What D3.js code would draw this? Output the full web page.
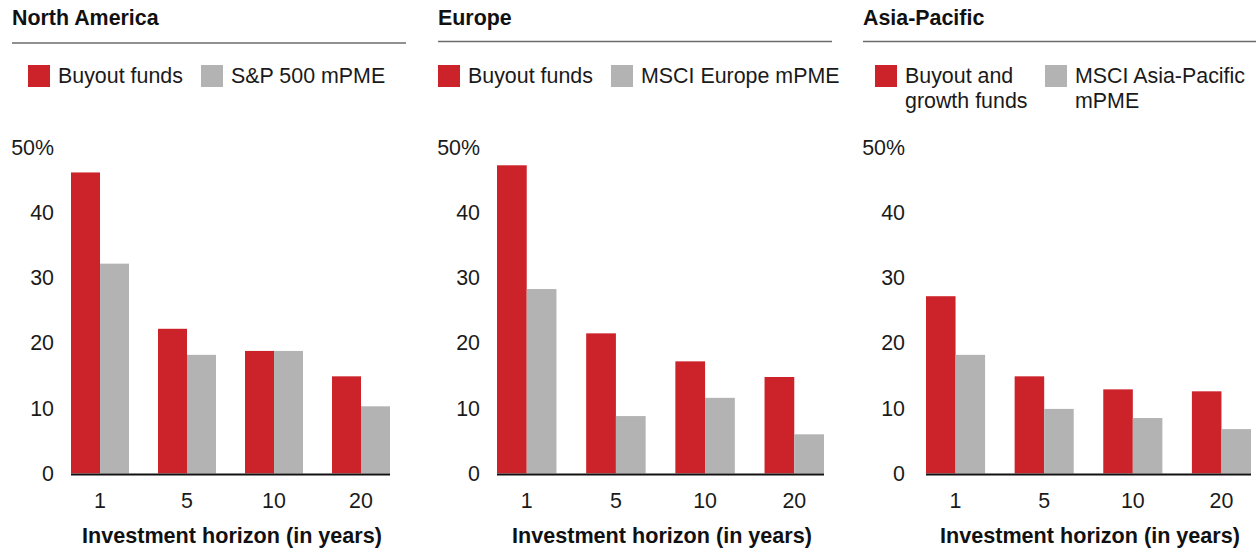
<!DOCTYPE html>
<html>
<head>
<meta charset="utf-8">
<script src="https://cdn.jsdelivr.net/npm/d3@7"></script>
<style>
  html, body { margin: 0; padding: 0; background: #fff; }
  svg { display: block; font-family: "Liberation Sans", Arial, sans-serif; }
</style>
</head>
<body>
<svg id="chart" width="1256" height="550"></svg>
<script>
// ---- Data ----
const horizons = ["1", "5", "10", "20"];
const yTickValues = [0, 10, 20, 30, 40, 50];
const regionTitles = ["North America", "Europe", "Asia-Pacific"];
const fundLabels = [["Buyout funds"], ["Buyout funds"], ["Buyout and", "growth funds"]];
const pmeLabels = [["S&P 500 mPME"], ["MSCI Europe mPME"], ["MSCI Asia-Pacific", "mPME"]];
const naBuyout = [46.2, 22.2, 18.8, 14.9];
const naPME = [32.2, 18.2, 18.8, 10.3];
const euBuyout = [47.3, 21.5, 17.2, 14.8];
const euPME = [28.3, 8.8, 11.6, 6.0];
const apBuyout = [27.2, 14.9, 12.9, 12.6];
const apPME = [18.2, 9.9, 8.5, 6.8];
const axisTitle = "Investment horizon (in years)";

const seriesByRegion = [[naBuyout, naPME], [euBuyout, euPME], [apBuyout, apPME]];

// ---- Layout ----
const RED = "#CC2229", GREY = "#B3B3B3";
const FS = 21.4;
const layouts = [
  { titleX: 12, ruleX1: 406, ruleY: 43, sq1: 28, tx1: 58, sq2: 201, tx2: 231, yLabX: 54, ax0: 71, ax1: 390 },
  { titleX: 438, ruleX1: 832, ruleY: 41.5, sq1: 438, tx1: 468, sq2: 611, tx2: 641, yLabX: 480, ax0: 497, ax1: 824 },
  { titleX: 863, ruleX1: 1256, ruleY: 41.5, sq1: 875, tx1: 905, sq2: 1045, tx2: 1075, yLabX: 905, ax0: 926, ax1: 1251 }
];

const svg = d3.select("#chart");
const y = d3.scaleLinear().domain([0, 50]).range([473.4, 147.7]);

layouts.forEach((L, i) => {
  const g = svg.append("g");
  const [s1, s2] = seriesByRegion[i];
  const rows = horizons.map((h, k) => ({ h, vals: [s1[k], s2[k]] }));

  // Title
  g.append("text").attr("x", L.titleX).attr("y", 25)
    .attr("font-size", FS).attr("font-weight", "bold").attr("fill", "#111")
    .text(regionTitles[i]);
  g.append("line").attr("x1", L.titleX).attr("x2", L.ruleX1)
    .attr("y1", L.ruleY).attr("y2", L.ruleY)
    .attr("stroke", "#6b6b6b").attr("stroke-width", 1.5);

  // Legend
  const legend = [
    { sq: L.sq1, tx: L.tx1, color: RED, lines: fundLabels[i] },
    { sq: L.sq2, tx: L.tx2, color: GREY, lines: pmeLabels[i] }
  ];
  legend.forEach(d => {
    g.append("rect").attr("x", d.sq).attr("y", 65).attr("width", 22).attr("height", 22).attr("fill", d.color);
    const t = g.append("text").attr("x", d.tx).attr("y", 82.7).attr("font-size", FS).attr("fill", "#1a1a1a");
    d.lines.forEach((ln, j) => {
      t.append("tspan").attr("x", d.tx).attr("dy", j === 0 ? 0 : 25.6).text(ln);
    });
  });

  // Scales
  const x0 = d3.scaleBand().domain(horizons).range([L.ax0, L.ax1]).paddingInner(1 / 3).paddingOuter(0);
  const x1 = d3.scaleBand().domain([0, 1]).range([0, x0.bandwidth()]).padding(0);

  // Y axis labels
  const yAxis = d3.axisLeft(y).tickValues(yTickValues).tickSize(0).tickPadding(0)
    .tickFormat(v => v === 50 ? "50%" : String(v));
  const ya = g.append("g").attr("transform", `translate(${L.yLabX},0)`).call(yAxis);
  ya.select(".domain").remove();
  ya.selectAll("text").attr("font-size", FS).attr("fill", "#1a1a1a")
    .attr("font-family", "'Liberation Sans', Arial, sans-serif");

  // Bars
  const groups = g.selectAll(".grp").data(rows).join("g")
    .attr("transform", d => `translate(${x0(d.h)},0)`);
  groups.selectAll("rect").data(d => d.vals).join("rect")
    .attr("x", (v, k) => x1(k))
    .attr("width", x1.bandwidth())
    .attr("y", v => y(v))
    .attr("height", v => y(0) - y(v))
    .attr("fill", (v, k) => k === 0 ? RED : GREY);

  // X axis
  const xAxis = d3.axisBottom(x0).tickSize(0).tickPadding(0);
  const xa = g.append("g").attr("transform", `translate(0,${y(0)})`).call(xAxis);
  xa.select(".domain").remove();
  xa.selectAll("text").attr("font-size", FS).attr("fill", "#1a1a1a")
    .attr("font-family", "'Liberation Sans', Arial, sans-serif")
    .attr("dy", 0).attr("y", 35);
  g.append("line").attr("x1", L.ax0).attr("x2", L.ax1)
    .attr("y1", y(0) + 1).attr("y2", y(0) + 1)
    .attr("stroke", "#111").attr("stroke-width", 2);

  // Axis title
  g.append("text").attr("x", (L.ax0 + L.ax1) / 2 + 1.5).attr("y", 543)
    .attr("text-anchor", "middle").attr("font-size", 21.6).attr("font-weight", "bold").attr("fill", "#111")
    .text(axisTitle);
});
</script>
</body>
</html>
